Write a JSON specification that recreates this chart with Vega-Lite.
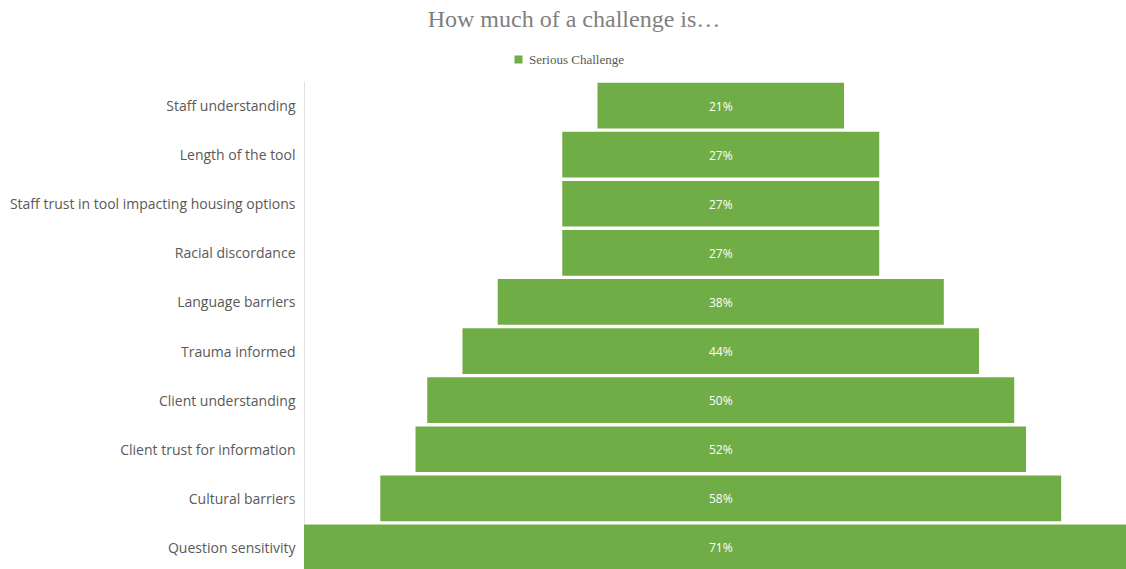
{
  "$schema": "https://vega.github.io/schema/vega-lite/v6.json",
  "autosize": "none",
  "padding": {"left": 304, "top": 81, "right": 0, "bottom": 0},
  "width": 822,
  "height": 488,
  "background": "white",
  "title": {
    "text": "How much of a challenge is…",
    "font": "Liberation Serif",
    "fontSize": 24,
    "fontWeight": "normal",
    "color": "#7f7f7f",
    "anchor": "middle",
    "frame": "group",
    "dx": -141,
    "offset": 21
  },
  "data": {
    "values": [
      {"item": "Staff understanding", "v": 0.21},
      {"item": "Length of the tool", "v": 0.27},
      {"item": "Staff trust in tool impacting housing options", "v": 0.27},
      {"item": "Racial discordance", "v": 0.27},
      {"item": "Language barriers", "v": 0.38},
      {"item": "Trauma informed", "v": 0.44},
      {"item": "Client understanding", "v": 0.50},
      {"item": "Client trust for information", "v": 0.52},
      {"item": "Cultural barriers", "v": 0.58},
      {"item": "Question sensitivity", "v": 0.71}
    ]
  },
  "encoding": {
    "y": {
      "field": "item",
      "type": "nominal",
      "sort": null,
      "title": null,
      "scale": {"range": [0, 491], "paddingInner": 0.07, "paddingOuter": 0.035},
      "axis": {
        "ticks": false,
        "domainColor": "#e3e3e3",
        "domainWidth": 1,
        "labelFont": "Open Sans",
        "labelFontSize": 14,
        "labelColor": "#595959",
        "labelPadding": 9,
        "labelOffset": 1.5,
        "labelLimit": 400
      }
    }
  },
  "layer": [
    {
      "mark": {"type": "bar", "clip": true},
      "encoding": {
        "x": {
          "field": "v",
          "type": "quantitative",
          "stack": "center",
          "scale": {"domain": [0, 0.7002], "nice": false, "zero": false},
          "axis": null
        },
        "color": {
          "datum": "Serious Challenge",
          "scale": {"range": ["#70AD47"]},
          "legend": {
            "title": null,
            "orient": "none",
            "legendX": 208,
            "legendY": -28,
            "symbolType": "square",
            "symbolSize": 64,
            "labelFont": "Liberation Serif",
            "labelFontSize": 13,
            "labelColor": "#595959",
            "symbolOffset": 0
          }
        }
      }
    },
    {
      "mark": {"type": "text", "color": "white", "font": "Open Sans", "fontSize": 12, "dy": 1},
      "encoding": {
        "x": {"datum": 0.355, "type": "quantitative"},
        "text": {"field": "v", "type": "quantitative", "format": ".0%"}
      }
    }
  ],
  "config": {"view": {"stroke": null}}
}
